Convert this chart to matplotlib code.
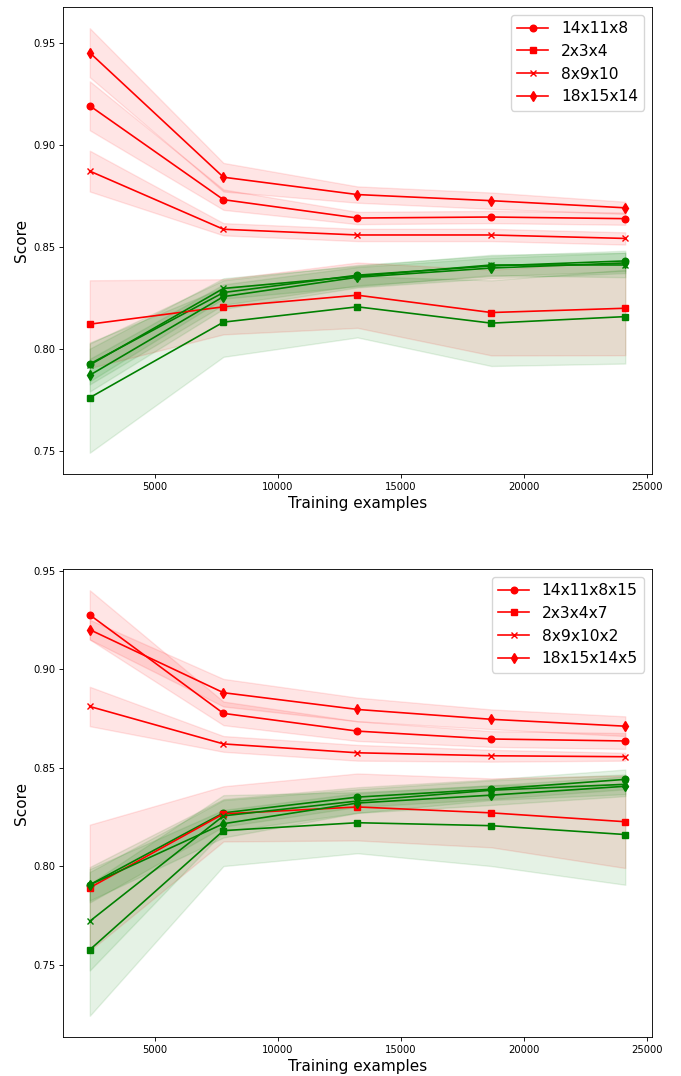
import numpy as np
import matplotlib
matplotlib.use("Agg")
import matplotlib.pyplot as plt

train_sizes = [2360, 7790, 13230, 18670, 24110]
markers = ["o", "s", "x", "d"]

# top panel
labels_top = ["14x11x8", "2x3x4", "8x9x10", "18x15x14"]
train_top = [
    [0.919, 0.873, 0.864, 0.8645, 0.8637],
    [0.812, 0.8205, 0.8262, 0.8177, 0.8198],
    [0.887, 0.8585, 0.8557, 0.8557, 0.854],
    [0.945, 0.884, 0.8755, 0.8725, 0.869],
]
train_top_std = [
    [0.012, 0.005, 0.003, 0.003, 0.003],
    [0.0215, 0.0135, 0.016, 0.021, 0.023],
    [0.010, 0.003, 0.003, 0.003, 0.003],
    [0.012, 0.007, 0.004, 0.004, 0.003],
]
test_top = [
    [0.7925, 0.8275, 0.836, 0.8405, 0.843],
    [0.776, 0.813, 0.8205, 0.8125, 0.8157],
    [0.792, 0.8295, 0.8355, 0.841, 0.841],
    [0.787, 0.8255, 0.835, 0.8395, 0.842],
]
test_top_std = [
    [0.010, 0.006, 0.005, 0.005, 0.005],
    [0.027, 0.017, 0.015, 0.021, 0.023],
    [0.008, 0.005, 0.005, 0.005, 0.006],
    [0.008, 0.006, 0.005, 0.005, 0.005],
]

# bottom panel
labels_bot = ["14x11x8x15", "2x3x4x7", "8x9x10x2", "18x15x14x5"]
train_bot = [
    [0.9275, 0.8775, 0.8685, 0.8645, 0.8635],
    [0.789, 0.8265, 0.830, 0.827, 0.8225],
    [0.881, 0.862, 0.8575, 0.856, 0.8555],
    [0.920, 0.888, 0.8795, 0.8745, 0.871],
]
train_bot_std = [
    [0.0125, 0.006, 0.005, 0.004, 0.004],
    [0.032, 0.014, 0.017, 0.0175, 0.0235],
    [0.010, 0.004, 0.004, 0.003, 0.002],
    [0.005, 0.007, 0.006, 0.005, 0.005],
]
test_bot = [
    [0.7905, 0.827, 0.835, 0.839, 0.844],
    [0.7575, 0.818, 0.822, 0.8205, 0.816],
    [0.772, 0.8255, 0.833, 0.8385, 0.8415],
    [0.7905, 0.8215, 0.832, 0.836, 0.8405],
]
test_bot_std = [
    [0.009, 0.007, 0.005, 0.005, 0.005],
    [0.0335, 0.018, 0.0155, 0.0205, 0.0255],
    [0.025, 0.008, 0.006, 0.005, 0.005],
    [0.008, 0.007, 0.005, 0.005, 0.005],
]

# the reference looks like a default-styled figure shrunk by ~0.79
s = 0.79
plt.rcParams.update({
    "lines.linewidth": 1.5 * s,
    "lines.markersize": 6 * s,
    "axes.linewidth": 0.8 * s,
    "xtick.major.size": 3.5 * s,
    "ytick.major.size": 3.5 * s,
    "xtick.major.width": 0.8 * s,
    "ytick.major.width": 0.8 * s,
    "xtick.major.pad": 3.5 * s,
    "ytick.major.pad": 3.5 * s,
    "axes.labelpad": 4.0 * s,
    "legend.edgecolor": "0.8",
})


def learning_curves(ax, labels, train, train_std, test, test_std):
    x = np.array(train_sizes)
    for i, lab in enumerate(labels):
        tr = np.array(train[i]); trs = np.array(train_std[i])
        te = np.array(test[i]); tes = np.array(test_std[i])
        ax.fill_between(x, tr - trs, tr + trs, alpha=0.1, color="r")
        ax.fill_between(x, te - tes, te + tes, alpha=0.1, color="g")
        ax.plot(x, tr, marker=markers[i], color="r", label=lab)
        ax.plot(x, te, marker=markers[i], color="g")
    ax.set_xlabel("Training examples", fontsize=11)
    ax.set_ylabel("Score", fontsize=11)
    ax.tick_params(labelsize=7.2)
    ax.legend(loc="upper right", fontsize=11.2)


fig = plt.figure(figsize=(6.81, 10.76), dpi=100)
ax1 = fig.add_axes([0.0925, 0.5595, 0.865, 0.434])
ax2 = fig.add_axes([0.0925, 0.0362, 0.865, 0.435])
learning_curves(ax1, labels_top, train_top, train_top_std, test_top, test_top_std)
learning_curves(ax2, labels_bot, train_bot, train_bot_std, test_bot, test_bot_std)

fig.savefig("out.png", dpi=100)
